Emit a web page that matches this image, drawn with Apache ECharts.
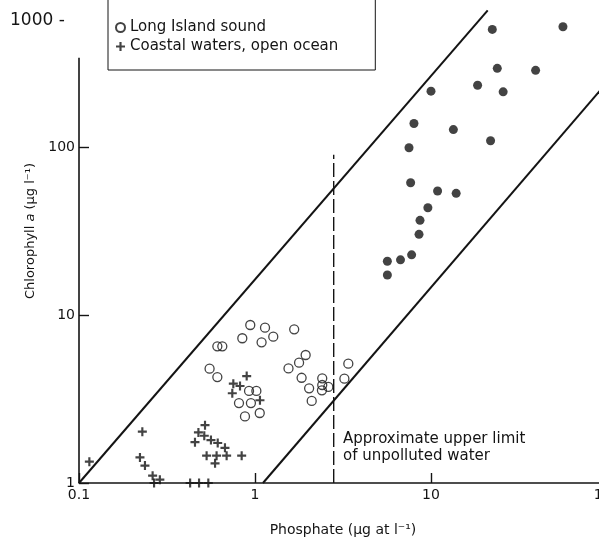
<!DOCTYPE html>
<html>
<head>
<meta charset="utf-8">
<script src="https://cdn.jsdelivr.net/npm/echarts@6/dist/echarts.min.js"></script>
<style>
  html, body { margin: 0; padding: 0; background: #fff; }
  #chart { width: 599px; height: 539px; }
</style>
</head>
<body>
<div id="chart"></div>
<script>
// Phosphate (x) vs chlorophyll a (y), both on log scales.

// Long Island Sound stations (open circles): [phosphate, chlorophyll]
const longIslandPhosphate = [0.94, 1.14, 0.847, 1.09, 1.27, 1.67, 0.611, 0.652, 0.552, 0.611,
  0.925, 1.018, 0.811, 0.948, 0.877, 1.064,
  1.94, 1.78, 1.55, 1.84, 2.03, 2.10, 2.41, 2.41, 2.40, 2.61, 3.39, 3.22];
const longIslandChlorophyll = [8.72, 8.4, 7.27, 6.88, 7.43, 8.22, 6.51, 6.51, 4.79, 4.27,
  3.53, 3.53, 2.99, 2.99, 2.49, 2.61,
  5.78, 5.2, 4.81, 4.23, 3.66, 3.08, 4.2, 3.83, 3.56, 3.73, 5.13, 4.18];

// Coastal waters and open ocean (crosses)
const coastalPhosphate = [0.1145, 0.229, 0.222, 0.237, 0.262, 0.288, 0.267,
  0.428, 0.481, 0.543,
  0.52, 0.477, 0.515, 0.456, 0.562, 0.614, 0.675, 0.531, 0.605, 0.69, 0.593, 0.84,
  0.897, 0.753, 0.822, 0.743, 1.067];
const coastalChlorophyll = [1.34, 2.02, 1.42, 1.27, 1.106, 1.047, 1.0,
  1.0, 1.0, 1.0,
  2.21, 2.0, 1.91, 1.75, 1.8, 1.73, 1.62, 1.455, 1.455, 1.455, 1.31, 1.455,
  4.33, 3.9, 3.78, 3.42, 3.11];

// High-phosphate stations (filled dots)
const enrichedPhosphate = [7.66, 10.9, 13.9, 9.6, 8.66, 8.55, 7.76, 6.71, 5.65, 5.65,
  22.3, 56.2, 23.8, 39.3, 18.4, 25.7, 10.0, 8.0, 13.4, 21.8, 7.5];
const enrichedChlorophyll = [61.3, 54.7, 53, 43.5, 36.6, 30.2, 22.8, 21.3, 20.9, 17.3,
  501, 520, 294, 286, 233, 213, 215, 138, 127, 109, 99];

// Envelope lines and the unpolluted-water limit
const upperEnvelope = [[0.1, 1], [21, 650]];
const lowerEnvelope = [[1.11, 1], [100, 242]];
const unpollutedLimit = [[2.8, 1], [2.8, 90]];
const yAxisRule = [[0.1, 1], [0.1, 340]];

const xTicks = [0.1, 1, 10, 100];
const yTicks = [1, 10, 100, 1000];

const ink = '#141414';
const font = 'DejaVu Sans';

const pair = (xs, ys) => xs.map((x, i) => [x, ys[i]]);
const plusPath = 'path://M0,3.8H10V6.2H0Z M3.8,0H6.2V10H3.8Z';

const chart = echarts.init(document.getElementById('chart'), null, { renderer: 'canvas' });

chart.setOption({
  animation: false,
  backgroundColor: '#ffffff',
  grid: { left: 79, right: -8, top: -21, bottom: 56, containLabel: false, outerBoundsMode: 'none' },
  xAxis: {
    type: 'log', logBase: 10, min: xTicks[0], max: xTicks[xTicks.length - 1],
    name: 'Phosphate (μg at l⁻¹)', nameLocation: 'middle', nameGap: 40,
    nameTextStyle: { fontFamily: font, fontSize: 14, color: ink },
    axisLine: { show: true, lineStyle: { color: ink, width: 1.6 } },
    axisTick: { show: true, inside: true, length: 10, lineStyle: { color: ink, width: 1.4 } },
    axisLabel: { fontFamily: font, fontSize: 14, color: ink, margin: 5 },
    splitLine: { show: false },
    minorTick: { show: false }
  },
  yAxis: {
    type: 'log', logBase: 10, min: yTicks[0], max: yTicks[yTicks.length - 1],
    name: 'Chlorophyll {i|a} (μg l⁻¹)', nameLocation: 'middle', nameGap: 38,
    nameTextStyle: {
      fontFamily: font, fontSize: 13, color: ink,
      rich: { i: { fontFamily: font, fontSize: 13, color: ink, fontStyle: 'italic' } }
    },
    axisLine: { show: false },
    axisTick: { show: true, inside: true, length: 10, lineStyle: { color: ink, width: 1.4 } },
    axisLabel: { fontFamily: font, fontSize: 14, color: ink, margin: 4, showMaxLabel: false },
    splitLine: { show: false }
  },
  legend: {
    orient: 'vertical', left: 108, top: -10,
    padding: [30, 37, 16, 7],
    itemWidth: 9, itemHeight: 9, itemGap: 4,
    borderColor: ink, borderWidth: 1, backgroundColor: '#fff',
    textStyle: { fontFamily: font, fontSize: 15, color: ink },
    data: ['Long Island sound', 'Coastal waters, open ocean']
  },
  graphic: [
    { type: 'text', left: 10, top: 12,
      style: { text: '1000 -', font: '17px "DejaVu Sans"', fill: ink } },
    { type: 'text', left: 343, top: 431,
      style: { text: 'Approximate upper limit\nof unpolluted water', font: '15px "DejaVu Sans"',
        fill: ink, lineHeight: 17 } }
  ],
  series: [
    { type: 'line', name: 'yAxisRule', data: yAxisRule, symbol: 'none', silent: true,
      lineStyle: { color: ink, width: 1.6 } },
    { type: 'line', name: 'upperEnvelope', data: upperEnvelope, symbol: 'none', silent: true,
      lineStyle: { color: ink, width: 2 } },
    { type: 'line', name: 'lowerEnvelope', data: lowerEnvelope, symbol: 'none', silent: true,
      lineStyle: { color: ink, width: 2 } },
    { type: 'line', name: 'unpollutedLimit', data: unpollutedLimit, symbol: 'none', silent: true,
      lineStyle: { color: ink, width: 1.4, type: [14, 4] } },
    { type: 'scatter', name: 'Long Island sound', data: pair(longIslandPhosphate, longIslandChlorophyll),
      symbol: 'circle', symbolSize: 9,
      itemStyle: { color: 'rgba(255,255,255,0)', borderColor: ink, borderWidth: 1.3 } },
    { type: 'scatter', name: 'Coastal waters, open ocean', data: pair(coastalPhosphate, coastalChlorophyll),
      symbol: plusPath, symbolSize: 9, symbolKeepAspect: true,
      itemStyle: { color: ink } },
    { type: 'scatter', name: 'High phosphate stations', data: pair(enrichedPhosphate, enrichedChlorophyll),
      symbol: 'circle', symbolSize: 9,
      itemStyle: { color: ink } }
  ]
});
</script>
</body>
</html>
